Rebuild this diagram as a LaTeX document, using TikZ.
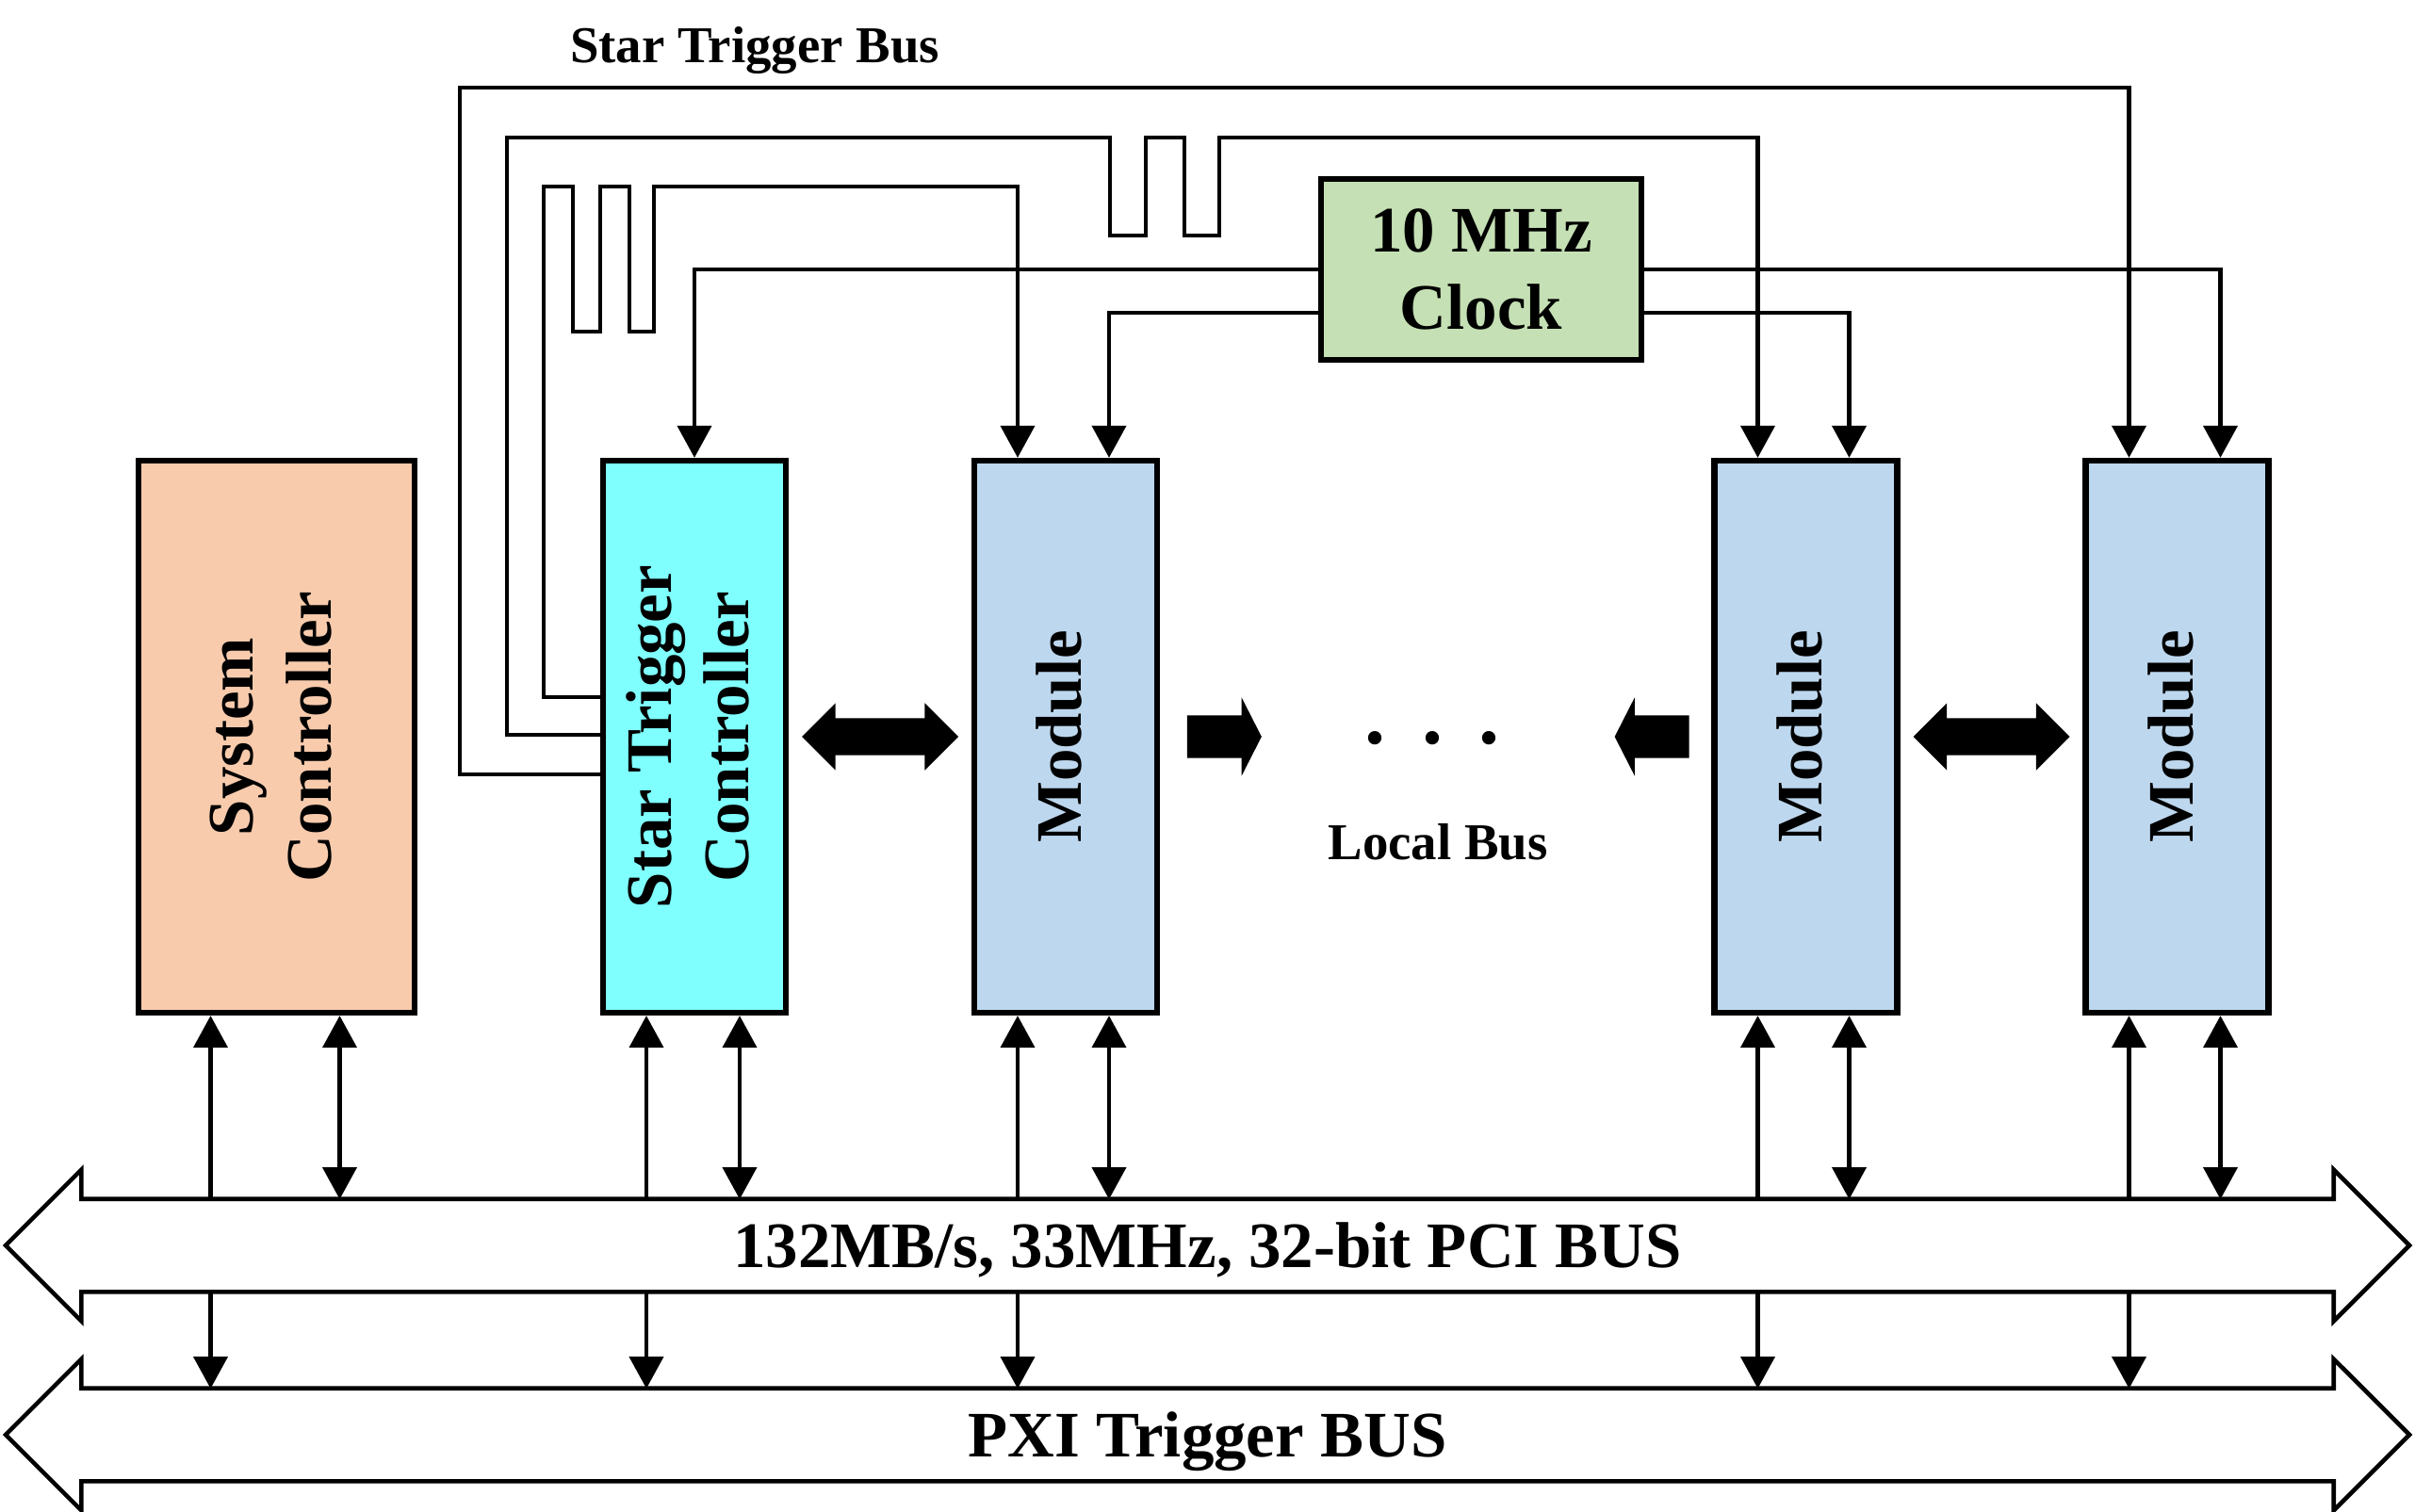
\documentclass[tikz,border=0pt]{standalone}
\usepackage{fontspec}
\setmainfont{Liberation Serif}
\usetikzlibrary{arrows.meta,positioning,calc,shapes.arrows}
\definecolor{sysfill}{RGB}{248,203,173}
\definecolor{stcfill}{RGB}{128,255,255}
\definecolor{modfill}{RGB}{189,215,238}
\definecolor{clkfill}{RGB}{197,224,180}
\newcommand{\bigtxt}{\fontsize{19.6}{23.5}\selectfont\bfseries}
\newcommand{\smalltxt}{\fontsize{15.6}{19}\selectfont\bfseries}
\newcommand{\vtext}[1]{\rotatebox{90}{\begin{tabular}{@{}c@{}}#1\end{tabular}}}

\begin{document}
\begin{tikzpicture}[
  >={Triangle[length=3.4mm,width=3.6mm]},
  blk/.style={draw, line width=1.8pt, minimum width=1.94cm, minimum height=5.86cm, inner sep=0pt, font=\bigtxt},
  sig/.style={line width=1.2pt},
  bus/.style={double arrow, draw, fill=white, line width=1.3pt, minimum height=25.51cm,
    text height=0.70cm, text depth=0.24cm, double arrow head extend=0.31cm, double arrow tip angle=90,
    inner sep=0pt, font=\bigtxt},
  fat/.style={fill=black, inner sep=0pt, text depth=0pt}
]
 \useasboundingbox (0,0) rectangle (25.63,16.04);
 % boxes
 \node[blk, fill=sysfill, minimum width=2.93cm] (sysc) at (2.935,8.22) {\vtext{System\\Controller}};
 \node[blk, fill=stcfill] (stc) at (7.37,8.22) {\vtext{Star Trigger\\Controller}};
 \node[blk, fill=modfill] (mod1) at (11.31,8.22) {\vtext{Module}};
 \node[blk, fill=modfill] (mod2) at (19.165,8.22) {\vtext{Module}};
 \node[blk, fill=modfill] (mod3) at (23.105,8.22) {\vtext{Module}};
 \node[blk, fill=clkfill, minimum width=3.40cm, minimum height=1.92cm, align=center] (clock) at (15.72,13.18) {10 MHz\\Clock};
 % buses
 \node[bus] (pci) at (12.815,2.82) {132MB/s, 33MHz, 32-bit PCI BUS};
 \node[bus] (pxi) at (12.815,0.81) {PXI Trigger BUS};
 \path (pci.center) ++(0,0.49) coordinate (pcit)
       (pci.center) ++(0,-0.49) coordinate (pcib)
       (pxi.center) ++(0,0.49) coordinate (pxit);
 % box <-> bus
 \foreach \b/\dl/\dr in {sysc/0.70/0.67, stc/0.51/0.48, mod1/0.51/0.46, mod2/0.51/0.46, mod3/0.51/0.46}{
   \coordinate (\b-bl) at ($(\b.south)+(-\dl,0)$);
   \coordinate (\b-br) at ($(\b.south)+(\dr,0)$);
   \draw[sig,->] (\b-bl |- pcit) -- (\b-bl);
   \draw[sig,<->] (\b-br) -- (\b-br |- pcit);
   \draw[sig,->] (\b-bl |- pcib) -- (\b-bl |- pxit);
 }
 \foreach \m in {mod1,mod2,mod3}{
   \coordinate (\m-tl) at ($(\m.north)+(-0.51,0)$);
   \coordinate (\m-tr) at ($(\m.north)+(0.46,0)$);
 }
 % clock lines
 \draw[sig,->] (clock.west) -| (stc.north);
 \draw[sig,->] (clock.east) -| (mod3-tr);
 \draw[sig,->] ($(clock.west)+(0,-0.46)$) -| (mod1-tr);
 \draw[sig,->] ($(clock.east)+(0,-0.46)$) -| (mod2-tr);
 % star trigger lines
 \node[font=\smalltxt] (stbus) at (8.01,15.50) {Star Trigger Bus};
 \coordinate (st1) at (4.88,15.11);
 \coordinate (st2) at (5.38,14.58);
 \coordinate (st3) at (5.77,14.06);
 \draw[sig,->] ($(stc.west)+(0,-0.40)$) -| (st1) -| (mod3-tl);
 \draw[sig,->] ($(stc.west)+(0,0.02)$) -| (st2) -- (11.78,14.58) -- ++(0,-1.04) -- ++(0.38,0) -- ++(0,1.04)
      -- ++(0.41,0) -- ++(0,-1.04) -- ++(0.37,0) -- ++(0,1.04) -| (mod2-tl);
 \draw[sig,->] ($(stc.west)+(0,0.42)$) -| (st3) -- (6.08,14.06) -- ++(0,-1.54) -- ++(0.29,0) -- ++(0,1.54)
      -- ++(0.31,0) -- ++(0,-1.54) -- ++(0.26,0) -- ++(0,1.54) -| (mod1-tl);
 % local bus
 \node[fat, double arrow, minimum height=1.66cm, text height=0.38cm, double arrow head extend=0.16cm,
       double arrow tip angle=90] (lb1) at ($(stc.east)!0.5!(mod1.west)$) {};
 \node[fat, double arrow, minimum height=1.66cm, text height=0.38cm, double arrow head extend=0.16cm,
       double arrow tip angle=90] (lb2) at ($(mod2.east)!0.5!(mod3.west)$) {};
 \node[fat, single arrow, minimum height=0.79cm, text height=0.44cm, single arrow head extend=0.19cm,
       single arrow tip angle=126, anchor=tail] (lbr) at ($(mod1.east)+(0.28,0)$) {};
 \node[fat, single arrow, minimum height=0.79cm, text height=0.44cm, single arrow head extend=0.19cm,
       single arrow tip angle=126, shape border rotate=180, anchor=tail] (lbl) at ($(mod2.west)+(-0.23,0)$) {};
 \node[font=\fontsize{25}{30}\selectfont\bfseries, inner sep=0pt] (dots) at (15.20,8.20) {.\hspace{0.385cm}.\hspace{0.385cm}.};
 \node[font=\smalltxt] (lbus) at (15.26,7.10) {Local Bus};
\end{tikzpicture}
\end{document}
